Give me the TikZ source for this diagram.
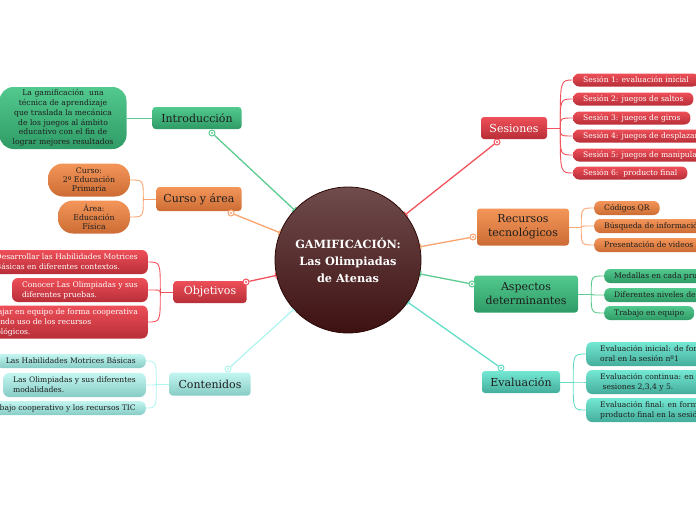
\documentclass[tikz,border=0pt]{standalone}
\usepackage{fontspec}
\setmainfont{DejaVu Serif}
\usetikzlibrary{arrows.meta,positioning}
\definecolor{MapGreen}{HTML}{52C98E}
\definecolor{MapGreenDk}{HTML}{2F9B66}
\definecolor{MapGreenLn}{HTML}{5CCB90}
\definecolor{MapOrange}{HTML}{F4965A}
\definecolor{MapOrangeDk}{HTML}{CC6C34}
\definecolor{MapOrangeLn}{HTML}{F9A36E}
\definecolor{MapRed}{HTML}{EE4F58}
\definecolor{MapRedDk}{HTML}{B82E38}
\definecolor{MapRedLn}{HTML}{F2525B}
\definecolor{MapAqua}{HTML}{C4F6F1}
\definecolor{MapAquaDk}{HTML}{86CCC5}
\definecolor{MapAquaLn}{HTML}{B2F5EF}
\definecolor{MapTeal}{HTML}{74E8D3}
\definecolor{MapTealDk}{HTML}{44AD9B}
\definecolor{MapTealLn}{HTML}{62DEC8}
\definecolor{HubTop}{HTML}{704C4D}
\definecolor{HubBot}{HTML}{3E1111}
\definecolor{HubRim}{HTML}{2B0808}
\definecolor{MapInk}{HTML}{1E1E1E}

\begin{document}
\begin{tikzpicture}[
      x=1pt,y=-1pt,
      hub/.style={circle,draw=HubRim,line width=0.8pt,top color=HubTop,bottom color=HubBot,
        minimum size=146pt,inner sep=0pt,text=white,align=center,
        font=\bfseries\fontsize{11.3}{17}\selectfont},
      branch/.style={rounded corners=3pt,align=center,inner sep=2pt,
        font=\fontsize{11}{14}\selectfont},
      leaf/.style={rounded corners=6pt,align=left,inner xsep=10pt,inner ysep=1pt,
        minimum height=13pt,font=\fontsize{7.6}{10}\selectfont},
      gbox/.style={top color=MapGreen,bottom color=MapGreenDk,text=MapInk},
      obox/.style={top color=MapOrange,bottom color=MapOrangeDk,text=MapInk},
      rbox/.style={top color=MapRed,bottom color=MapRedDk,text=white},
      abox/.style={top color=MapAqua,bottom color=MapAquaDk,text=MapInk},
      tbox/.style={top color=MapTeal,bottom color=MapTealDk,text=MapInk},
      ring/.style={circle,draw=#1,line width=1pt,fill=white,inner sep=0pt,minimum size=6pt,
        path picture={\fill[#1] (path picture bounding box.center) circle (1.2pt);}},
      spoke/.style={line width=1.3pt,draw=#1,-{Bar[width=6pt,line width=1pt]}},
      twig/.style={line width=0.9pt,draw=#1}
    ]
    \path[use as bounding box] (0,0) rectangle (696,520);
    \clip (0,0) rectangle (696,520);

    \node[hub] (hub) at (348,260) {GAMIFICACIÓN:\\Las Olimpiadas\\de Atenas};

    % left side
    \node[branch,gbox,minimum width=89pt,minimum height=22pt] (intro) at (197,118) {Introducción};
    \node[gbox,rounded corners=14pt,minimum width=127pt,minimum height=62pt,inner sep=0pt,
      align=center,font=\fontsize{7.7}{9.8}\selectfont] (introtxt) at (63,118)
      {La gamificación\ \ una\\técnica de aprendizaje\\que traslada la mecánica\\de los juegos al ámbito\\educativo con el fin de\\lograr mejores resultados};
    \draw[twig=MapGreenLn] (intro.west) -- (introtxt.east);

    \node[branch,obox,minimum width=85pt,minimum height=24pt] (curso) at (199,199) {Curso y área};
    \node[obox,rounded corners=15pt,minimum width=82pt,minimum height=33pt,inner sep=0pt,
      align=center,font=\fontsize{7.8}{9}\selectfont] (cursoA) at (89,180) {Curso:\\2º Educación\\Primaria};
    \node[obox,rounded corners=15pt,minimum width=72pt,minimum height=33pt,inner sep=0pt,
      align=center,font=\fontsize{7.8}{9}\selectfont] (cursoB) at (94,217) {Área:\\Educación\\Física};
    \coordinate (cursoJ) at ([xshift=-13pt]curso.west);
    \draw[twig=MapOrangeLn] (curso.west) -- (cursoJ);
    \foreach \n in {cursoA,cursoB}
      \draw[twig=MapOrangeLn] (cursoJ) .. controls (cursoJ |- \n.east) .. (\n.east);

    \node[branch,rbox,minimum width=73pt,minimum height=22pt] (obj) at (210,292) {Objetivos};
    \node[leaf,rbox,anchor=east,minimum height=24pt] (objA) at (148,262)
      {Desarrollar las Habilidades Motrices\\Básicas en diferentes contextos.};
    \node[leaf,rbox,anchor=east,minimum height=24pt] (objB) at (148,290)
      {Conocer Las Olimpiadas y sus\\diferentes pruebas.};
    \node[leaf,rbox,anchor=east,minimum height=33pt] (objC) at (148,322)
      {Trabajar en equipo de forma cooperativa\\haciendo uso de los recursos\\tecnológicos.};
    \coordinate (objJ) at ([xshift=-13pt]obj.west);
    \draw[twig=MapRedLn] (obj.west) -- (objJ);
    \foreach \n in {objA,objB,objC}
      \draw[twig=MapRedLn] (objJ) .. controls (objJ |- \n.east) .. (\n.east);

    \node[branch,abox,minimum width=81pt,minimum height=23pt] (cont) at (210,384) {Contenidos};
    \node[leaf,abox,anchor=east,minimum height=14pt] (contA) at (146,361)
      {Las Habilidades Motrices Básicas};
    \node[leaf,abox,anchor=east,minimum height=24pt] (contB) at (146,385)
      {Las Olimpiadas y sus diferentes\\modalidades.};
    \node[leaf,abox,anchor=east,minimum height=14pt] (contC) at (146,408)
      {El trabajo cooperativo y los recursos TIC};
    \coordinate (contJ) at ([xshift=-13pt]cont.west);
    \draw[twig=MapAquaLn] (cont.west) -- (contJ);
    \foreach \n in {contA,contB,contC}
      \draw[twig=MapAquaLn] (contJ) .. controls (contJ |- \n.east) .. (\n.east);

    % right side
    \node[branch,rbox,minimum width=66pt,minimum height=22pt] (ses) at (514,128) {Sesiones};
    \node[leaf,rbox,anchor=west] (s1) at (573,80) {Sesión 1: evaluación inicial};
    \node[leaf,rbox,anchor=west] (s2) at (573,99) {Sesión 2: juegos de saltos};
    \node[leaf,rbox,anchor=west] (s3) at (573,118) {Sesión 3: juegos de giros};
    \node[leaf,rbox,anchor=west] (s4) at (573,136) {Sesión 4: juegos de desplazamiento};
    \node[leaf,rbox,anchor=west] (s5) at (573,155) {Sesión 5: juegos de manipulación};
    \node[leaf,rbox,anchor=west] (s6) at (573,173) {Sesión 6:\ \ producto final};
    \coordinate (sesJ) at ([xshift=13pt]ses.east);
    \draw[twig=MapRedLn] (ses.east) -- (sesJ);
    \foreach \n in {s1,s2,s3,s4,s5,s6}
      \draw[twig=MapRedLn] (sesJ) .. controls (sesJ |- \n.west) .. (\n.west);

    \node[branch,obox,minimum width=92pt,minimum height=37pt] (rec) at (523,227) {Recursos\\tecnológicos};
    \node[leaf,obox,anchor=west,minimum height=14pt] (r1) at (594,208) {Códigos QR};
    \node[leaf,obox,anchor=west,minimum height=14pt] (r2) at (594,226) {Búsqueda de información};
    \node[leaf,obox,anchor=west,minimum height=14pt] (r3) at (594,245) {Presentación de videos};
    \coordinate (recJ) at ([xshift=12pt]rec.east);
    \draw[twig=MapOrangeLn] (rec.east) -- (recJ);
    \foreach \n in {r1,r2,r3}
      \draw[twig=MapOrangeLn] (recJ) .. controls (recJ |- \n.west) .. (\n.west);

    \node[branch,gbox,minimum width=104pt,minimum height=37pt] (asp) at (526,294) {Aspectos\\determinantes};
    \node[leaf,gbox,anchor=west,minimum height=14pt] (a1) at (604,276) {Medallas en cada prueba};
    \node[leaf,gbox,anchor=west,minimum height=14pt] (a2) at (604,295) {Diferentes niveles de dificultad};
    \node[leaf,gbox,anchor=west,minimum height=14pt] (a3) at (604,313) {Trabajo en equipo};
    \coordinate (aspJ) at ([xshift=13pt]asp.east);
    \draw[twig=MapGreenLn] (asp.east) -- (aspJ);
    \foreach \n in {a1,a2,a3}
      \draw[twig=MapGreenLn] (aspJ) .. controls (aspJ |- \n.west) .. (\n.west);

    \node[branch,tbox,minimum width=78pt,minimum height=22pt] (eval) at (521,382) {Evaluación};
    \node[leaf,tbox,anchor=west,inner xsep=14pt,minimum height=24pt] (e1) at (586,354) {Evaluación inicial: de forma\\oral en la sesión nº1};
    \node[leaf,tbox,anchor=west,inner xsep=14pt,minimum height=24pt] (e2) at (586,382) {Evaluación continua: en las\\\ sesiones 2,3,4 y 5.};
    \node[leaf,tbox,anchor=west,inner xsep=14pt,minimum height=24pt] (e3) at (586,410) {Evaluación final: en forma de\\producto final en la sesión 6.};
    \coordinate (evalJ) at ([xshift=13pt]eval.east);
    \draw[twig=MapTealLn] (eval.east) -- (evalJ);
    \foreach \n in {e1,e2,e3}
      \draw[twig=MapTealLn] (evalJ) .. controls (evalJ |- \n.west) .. (\n.west);

    % spokes to the hub
    \node[ring=MapGreenLn] (mIntro) at (212,133) {};
    \node[ring=MapOrangeLn] (mCurso) at (231,213) {};
    \node[ring=MapRedLn] (mObj) at (246,282) {};
    \node[ring=MapAquaLn] (mCont) at (228,369) {};
    \node[ring=MapRedLn] (mSes) at (497,142) {};
    \node[ring=MapOrangeLn] (mRec) at (473,237) {};
    \node[ring=MapGreenLn] (mAsp) at (472,284) {};
    \node[ring=MapTealLn] (mEval) at (501,368) {};
    \draw[spoke=MapGreenLn] (mIntro) -- (hub);
    \draw[spoke=MapOrangeLn] (mCurso) -- (hub);
    \draw[spoke=MapRedLn] (mObj) -- (hub);
    \draw[spoke=MapAquaLn] (mCont) -- (hub);
    \draw[spoke=MapRedLn] (mSes) -- (hub);
    \draw[spoke=MapOrangeLn] (mRec) -- (hub);
    \draw[spoke=MapGreenLn] (mAsp) -- (hub);
    \draw[spoke=MapTealLn] (mEval) -- (hub);
  \end{tikzpicture}
\end{document}
